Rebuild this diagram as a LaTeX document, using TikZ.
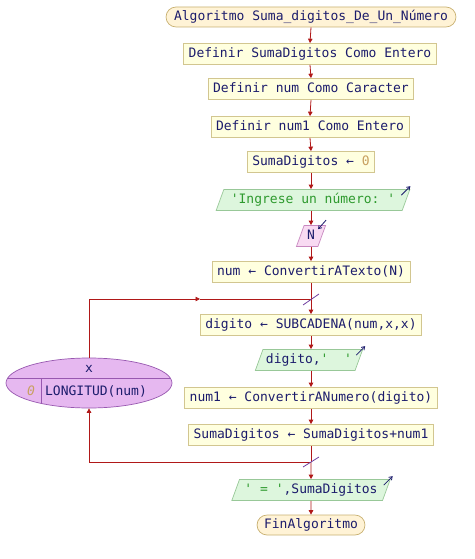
\documentclass[tikz,border=0pt]{standalone}
\usepackage{fontspec}
\setmonofont{DejaVu Sans Mono}
\usetikzlibrary{shapes.geometric,arrows.meta}
\definecolor{boxfill}{HTML}{FFFFDF}
\definecolor{boxline}{HTML}{D2C690}
\definecolor{termfill}{HTML}{FFF3D6}
\definecolor{termline}{HTML}{C8B070}
\definecolor{parafill}{HTML}{DDF6DD}
\definecolor{paraline}{HTML}{98C898}
\definecolor{infill}{HTML}{F8DAF2}
\definecolor{inline}{HTML}{C888C0}
\definecolor{loopfill}{HTML}{E6B8F0}
\definecolor{loopline}{HTML}{9858B0}
\definecolor{navy}{HTML}{1C1C6C}
\definecolor{strgreen}{HTML}{2E9A2E}
\definecolor{numorange}{HTML}{C8A060}
\definecolor{arrowred}{HTML}{B01818}
\definecolor{tickpurple}{HTML}{7040A0}
\begin{document}
\begin{tikzpicture}[x=1pt,y=-1pt,
  font=\ttfamily\fontsize{13}{15}\selectfont,
  every node/.style={text height=9.5pt,text depth=2.5pt,inner ysep=0pt},
  stepbox/.style={draw=boxline,fill=boxfill,text=navy,minimum height=21pt,inner xsep=5pt,line width=0.7pt},
  term/.style={draw=termline,fill=termfill,text=navy,minimum height=20pt,rounded corners=10pt,inner xsep=8pt,line width=0.7pt},
  parashape/.style={trapezium,trapezium left angle=70,trapezium right angle=110,trapezium stretches body=true,inner ysep=4.5pt,minimum height=21pt,line width=0.7pt},
  outpara/.style={parashape,draw=paraline,fill=parafill,text=strgreen},
  inpara/.style={parashape,draw=inline,fill=infill,text=navy},
  wire/.style={draw=arrowred,line width=0.8pt},
  flow/.style={wire,-{Triangle[length=4.5pt,width=4.5pt]}},
  ioarrow/.style={draw=navy,line width=0.8pt,-{Straight Barb[length=3pt,width=4pt]}},
  tick/.style={draw=tickpurple,line width=0.8pt}]
\useasboundingbox (0,0) rectangle (474,559);

\node[term] (t0) at (311,17) {Algoritmo Suma\_digitos\_De\_Un\_Número};
\node[stepbox] (b1) at (310,54) {Definir SumaDigitos Como Entero};
\node[stepbox] (b2) at (311,89) {Definir num Como Caracter};
\node[stepbox] (b3) at (310,127) {Definir num1 Como Entero};
\node[stepbox] (b4) at (311,162) {SumaDigitos ← \textcolor{numorange}{0}};
\node[outpara,inner xsep=7pt] (p1) at (313,200) {'Ingrese un número: '};
\node[inpara,inner xsep=3pt] (pn) at (311,236) {N};
\node[stepbox] (b5) at (311,272) {num ← ConvertirATexto(N)};
\coordinate (j1) at (311,299);
\node[stepbox] (b6) at (311,325) {digito ← SUBCADENA(num,x,x)};
\node[outpara,inner xsep=3pt] (p2) at (309,360) {\textcolor{navy}{digito,}'\ \ '};
\node[stepbox] (b7) at (311,398) {num1 ← ConvertirANumero(digito)};
\node[stepbox] (b8) at (311,435) {SumaDigitos ← SumaDigitos+num1};
\coordinate (j2) at (311,462);
\node[outpara,inner xsep=5pt] (p3) at (311,490) {' = '\textcolor{navy}{,SumaDigitos}};
\node[term,inner xsep=7pt] (t1) at (311,525) {FinAlgoritmo};

% loop ellipse
\node[ellipse,draw=loopline,fill=loopfill,line width=0.7pt,minimum width=166pt,minimum height=50pt] (lp) at (89,383) {};
\begin{scope}
  \clip (89,383) ellipse [x radius=83,y radius=25];
  \draw[loopline,line width=0.7pt] (0,378) -- (180,378);
  \draw[loopline,line width=0.7pt] (41,378) -- (41,420);
\end{scope}
\node[text=navy] (lx) at (89,369) {x};
\node[text=numorange] (l0) at (31,392) {\itshape 0};
\node[text=navy] (ll) at (96,392) {LONGITUD(num)};

% main connectors
\draw[flow] (t0.south) -- (b1.north);
\draw[flow] (b1.south) -- (b2.north);
\draw[flow] (b2.south) -- (b3.north);
\draw[flow] (b3.south) -- (b4.north);
\draw[flow] (b4.south) -- (b4.south |- p1.north);
\draw[flow] (b4.south |- p1.south) -- (b4.south |- pn.north);
\draw[flow] (b4.south |- pn.south) -- (b5.north);
\draw[wire] (b5.south) -- (j1);
\draw[flow] (j1) -- (b6.north);
\draw[flow] (b6.south) -- (b6.south |- p2.north);
\draw[flow] (b6.south |- p2.south) -- (b7.north);
\draw[flow] (b7.south) -- (b8.north);
\draw[wire] (b8.south) -- (j2);
\draw[flow] (j2) -- (p3.north);
\draw[flow] (p3.south) -- (t1.north);

% loop connectors
\coordinate (c1) at (89,299);
\coordinate (m1) at (200,299);
\coordinate (c2) at (89,462);
\draw[wire] (lp.north) -- (c1);
\draw[flow] (c1) -- (m1);
\draw[wire] (m1) -- (j1);
\draw[flow] (j2) -- (c2) -- (lp.south);

% ticks
\draw[tick] ([shift={(-8,6)}]j1) -- ([shift={(8,-5)}]j1);
\draw[tick] ([shift={(-8,5)}]j2) -- ([shift={(8,-5)}]j2);

% io arrows
\draw[ioarrow] ([shift={(-9,6)}]p1.top right corner) -- ([shift={(0,-3)}]p1.top right corner);
\draw[ioarrow] ([shift={(0,-5)}]pn.top right corner) -- ([shift={(-8,4)}]pn.top right corner);
\draw[ioarrow] ([shift={(-7,6)}]p2.top right corner) -- ([shift={(2,-3)}]p2.top right corner);
\draw[ioarrow] ([shift={(-7,6)}]p3.top right corner) -- ([shift={(2,-3)}]p3.top right corner);
\end{tikzpicture}
\end{document}
